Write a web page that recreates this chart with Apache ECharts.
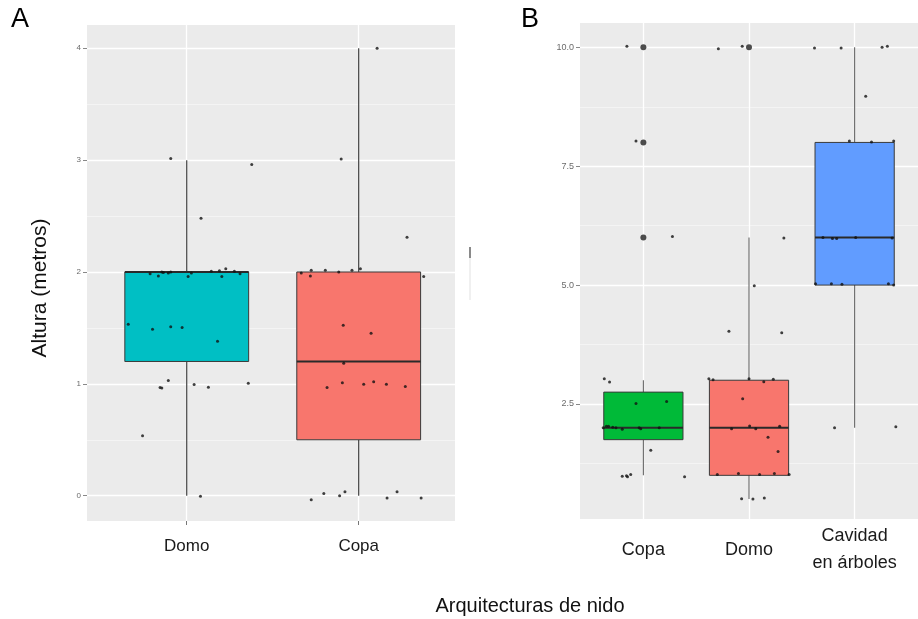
<!DOCTYPE html>
<html>
<head>
<meta charset="utf-8">
<script src="https://cdn.jsdelivr.net/npm/echarts@6.0.0/dist/echarts.min.js"></script>
<style>html,body{margin:0;padding:0;background:#fff}#c{width:918px;height:619px}</style>
</head>
<body>
<div id="c"></div>
<script>
// ---------- Panel A data ----------
const catsA = ['Domo', 'Copa'];
const ticksA = [0, 1, 2, 3, 4];
const minorTicksA = [0.5, 1.5, 2.5, 3.5];
// [low whisker, Q1, median, Q3, high whisker]
const boxA = [[0, 1.2, 2, 2, 3], [0, 0.5, 1.2, 2, 4]];
const colorsA = ['#00BFC4', '#F8766D'];
// [category index, horizontal jitter, value]
const jitterA = [
  [0,-0.093,3.015],[0,0.378,2.96],[0,0.083,2.48],
  [0,-0.213,1.985],[0,-0.165,1.965],[0,-0.145,2.0],[0,-0.136,1.995],[0,-0.107,1.99],[0,-0.093,2.0],[0,0.008,1.96],[0,0.027,1.99],[0,0.143,2.006],[0,0.19,2.01],[0,0.204,1.96],[0,0.227,2.03],[0,0.277,2.006],[0,0.31,1.985],
  [0,-0.34,1.533],[0,-0.199,1.488],[0,-0.093,1.51],[0,-0.027,1.503],[0,0.179,1.38],
  [0,-0.155,0.968],[0,-0.145,0.962],[0,-0.107,1.03],[0,0.043,0.995],[0,0.126,0.97],[0,0.358,1.006],
  [0,-0.257,0.536],[0,0.08,-0.005],
  [1,-0.102,3.01],[1,0.107,4.0],[1,0.281,2.31],
  [1,-0.334,1.99],[1,-0.276,2.015],[1,-0.281,1.965],[1,-0.194,2.015],[1,-0.116,2.0],[1,-0.039,2.015],[1,0.01,2.03],[1,0.378,1.96],
  [1,-0.09,1.524],[1,0.072,1.453],[1,-0.087,1.185],
  [1,-0.184,0.968],[1,-0.095,1.009],[1,0.029,0.997],[1,0.087,1.018],[1,0.161,0.997],[1,0.271,0.977],
  [1,-0.276,-0.036],[1,-0.203,0.02],[1,-0.111,0.0],[1,-0.08,0.036],[1,0.165,-0.02],[1,0.223,0.036],[1,0.363,-0.02]
];

// ---------- Panel B data ----------
const catsB = ['Copa', 'Domo', 'Cavidad\nen árboles'];
const ticksB = [2.5, 5, 7.5, 10];
const minorTicksB = [1.25, 3.75, 6.25, 8.75];
const boxB = [[1, 1.75, 2, 2.75, 3], [0.5, 1, 2, 3, 6], [2, 5, 6, 8, 10]];
const colorsB = ['#00BA38', '#F8766D', '#619CFF'];
const outliersB = [[0, 10], [0, 8], [0, 6], [1, 10]];
const jitterB = [
  [0,-0.156,10.02],[0,-0.07,8.03],[0,0.275,6.02],
  [0,-0.37,3.03],[0,-0.32,2.96],[0,-0.07,2.51],[0,0.22,2.55],
  [0,-0.38,2.0],[0,-0.35,2.03],[0,-0.33,2.03],[0,-0.29,2.01],[0,-0.26,2.0],[0,-0.2,1.97],[0,-0.04,2.0],[0,-0.025,1.98],[0,0.15,2.0],
  [0,0.07,1.53],
  [0,-0.2,0.98],[0,-0.16,0.99],[0,-0.15,0.97],[0,-0.12,1.02],[0,0.39,0.97],
  [1,-0.29,9.97],[1,-0.064,10.02],[1,0.33,5.99],
  [1,0.05,4.985],[1,-0.19,4.03],[1,0.31,4.0],
  [1,-0.38,3.03],[1,-0.34,3.01],[1,0,3.03],[1,0.14,2.97],[1,0.23,3.02],
  [1,-0.06,2.61],
  [1,-0.165,1.98],[1,0.006,2.04],[1,0.064,1.98],[1,0.29,2.03],
  [1,0.18,1.8],[1,0.275,1.5],
  [1,-0.3,1.02],[1,-0.1,1.04],[1,0.1,1.02],[1,0.24,1.04],[1,0.38,1.02],
  [1,-0.07,0.51],[1,0.037,0.5],[1,0.145,0.525],
  [2,-0.38,9.985],[2,-0.128,9.985],[2,0.26,10.0],[2,0.31,10.02],[2,0.105,8.97],
  [2,-0.05,8.03],[2,0.16,8.01],[2,0.37,8.03],
  [2,-0.3,6.0],[2,-0.21,5.98],[2,-0.17,5.98],[2,0.01,6.0],[2,0.355,5.99],
  [2,-0.37,5.03],[2,-0.22,5.03],[2,-0.12,5.02],[2,0.32,5.03],[2,0.37,5.0],
  [2,-0.19,2.0],[2,0.39,2.02]
];

const FONT = "'Liberation Sans', Arial, sans-serif";
const chart = echarts.init(document.getElementById('c'), null, {renderer: 'canvas'});

function boxRenderer(colors, halfW, whiskerColor) {
  return function (params, api) {
    const i = api.value(0);
    const low = api.value(1), q1 = api.value(2), med = api.value(3), q3 = api.value(4), high = api.value(5);
    const a = api.coord([i, low]), b = api.coord([i, q1]);
    const c = api.coord([i, q3]), d = api.coord([i, high]);
    const tl = api.coord([i - halfW, q3]), br = api.coord([i + halfW, q1]);
    const ml = api.coord([i - halfW, med]), mr = api.coord([i + halfW, med]);
    return {
      type: 'group',
      children: [
        {type: 'line', shape: {x1: a[0], y1: a[1], x2: b[0], y2: b[1]}, style: {stroke: whiskerColor, lineWidth: 1.1}},
        {type: 'line', shape: {x1: c[0], y1: c[1], x2: d[0], y2: d[1]}, style: {stroke: whiskerColor, lineWidth: 1.1}},
        {type: 'rect', shape: {x: tl[0], y: tl[1], width: br[0] - tl[0], height: br[1] - tl[1]},
          style: {fill: colors[params.dataIndex], stroke: '#3a3a3a', lineWidth: 1}},
        {type: 'line', shape: {x1: ml[0], y1: ml[1], x2: mr[0], y2: mr[1]}, style: {stroke: '#2a2a2a', lineWidth: 2}}
      ]
    };
  };
}

const boxDataA = boxA.map((b, i) => [i].concat(b));
const boxDataB = boxB.map((b, i) => [i].concat(b));
const ptsA = jitterA.map(p => [p[0] + p[1], p[2]]);
const ptsB = jitterB.map(p => [p[0] + p[1], p[2]]);

const tickLabelStyle = {color: '#6b6b6b', fontFamily: FONT};
const noLine = {show: false, onZero: false};

const option = {
  animation: false,
  backgroundColor: '#ffffff',
  grid: [
    {left: 87, top: 25, width: 368, height: 496, show: true, backgroundColor: '#EBEBEB', borderWidth: 0},
    {left: 580, top: 23, width: 349, height: 496, show: true, backgroundColor: '#EBEBEB', borderWidth: 0}
  ],
  xAxis: [
    {gridIndex: 0, type: 'value', min: -0.58, max: 1.56,
      axisLine: noLine,
      axisTick: {show: true, customValues: [0, 1], length: 4, lineStyle: {color: '#777'}},
      axisLabel: {customValues: [0, 1], formatter: v => catsA[Math.round(v)], fontSize: 17, color: '#1a1a1a',
        fontFamily: FONT, margin: 25, verticalAlign: 'middle'},
      splitLine: {show: true, lineStyle: {color: '#ffffff', width: 1.3}}},
    {gridIndex: 1, type: 'value', min: -0.6, max: 2.6,
      axisLine: noLine,
      axisTick: {show: false, customValues: [0, 1, 2]},
      axisLabel: {customValues: [0, 1, 2], formatter: v => catsB[Math.round(v)], fontSize: 18, lineHeight: 27,
        color: '#1a1a1a', fontFamily: FONT, margin: 31, verticalAlign: 'middle'},
      splitLine: {show: true, lineStyle: {color: '#ffffff', width: 1.3}}}
  ],
  yAxis: [
    {gridIndex: 0, type: 'value', min: -0.226, max: 4.208,
      axisLine: noLine,
      axisTick: {show: true, customValues: ticksA, length: 4, lineStyle: {color: '#888'}},
      axisLabel: Object.assign({customValues: ticksA, formatter: v => String(v), fontSize: 8, margin: 6}, tickLabelStyle),
      splitLine: {show: true, lineStyle: {color: '#ffffff', width: 1.3}}},
    {gridIndex: 0, type: 'value', min: -0.226, max: 4.208, position: 'right',
      axisLine: noLine, axisLabel: {show: false},
      axisTick: {show: false, customValues: minorTicksA},
      splitLine: {show: true, lineStyle: {color: '#F6F6F6', width: 0.8}}},
    {gridIndex: 1, type: 'value', min: 0.082, max: 10.511,
      axisLine: noLine,
      axisTick: {show: true, customValues: ticksB, length: 4, lineStyle: {color: '#888'}},
      axisLabel: Object.assign({customValues: ticksB, formatter: v => v.toFixed(1), fontSize: 9, margin: 6}, tickLabelStyle),
      splitLine: {show: true, lineStyle: {color: '#ffffff', width: 1.3}}},
    {gridIndex: 1, type: 'value', min: 0.082, max: 10.511, position: 'right',
      axisLine: noLine, axisLabel: {show: false},
      axisTick: {show: false, customValues: minorTicksB},
      splitLine: {show: true, lineStyle: {color: '#F6F6F6', width: 0.8}}}
  ],
  series: [
    {type: 'custom', xAxisIndex: 0, yAxisIndex: 0, data: boxDataA, encode: {x: 0, y: [1, 5]},
      renderItem: boxRenderer(colorsA, 0.36, '#333333'), z: 2},
    {type: 'custom', xAxisIndex: 1, yAxisIndex: 2, data: boxDataB, encode: {x: 0, y: [1, 5]},
      renderItem: boxRenderer(colorsB, 0.375, '#666666'), z: 2},
    {type: 'scatter', xAxisIndex: 1, yAxisIndex: 2, data: outliersB, symbolSize: 6,
      itemStyle: {color: '#222222'}, z: 3},
    {type: 'scatter', xAxisIndex: 0, yAxisIndex: 0, data: ptsA, symbolSize: 3,
      itemStyle: {color: '#111111'}, z: 4},
    {type: 'scatter', xAxisIndex: 1, yAxisIndex: 2, data: ptsB, symbolSize: 3,
      itemStyle: {color: '#111111'}, z: 4}
  ],
  graphic: [
    {type: 'text', left: 11, top: 6, style: {text: 'A', fontSize: 27, fill: '#000', fontFamily: FONT}},
    {type: 'text', left: 521, top: 6, style: {text: 'B', fontSize: 27, fill: '#000', fontFamily: FONT}},
    {type: 'text', x: 40, y: 288, rotation: Math.PI / 2,
      style: {text: 'Altura (metros)', fontSize: 21, fill: '#111', fontFamily: FONT, align: 'center', verticalAlign: 'middle'}},
    {type: 'text', x: 530, y: 606,
      style: {text: 'Arquitecturas de nido', fontSize: 20, fill: '#111', fontFamily: FONT, align: 'center', verticalAlign: 'middle'}},
    {type: 'rect', shape: {x: 469, y: 247, width: 2, height: 11}, style: {fill: '#8a8a8a'}},
    {type: 'rect', shape: {x: 469, y: 258, width: 2, height: 42}, style: {fill: '#f0f0f0'}}
  ]
};
chart.setOption(option);
</script>
</body>
</html>
